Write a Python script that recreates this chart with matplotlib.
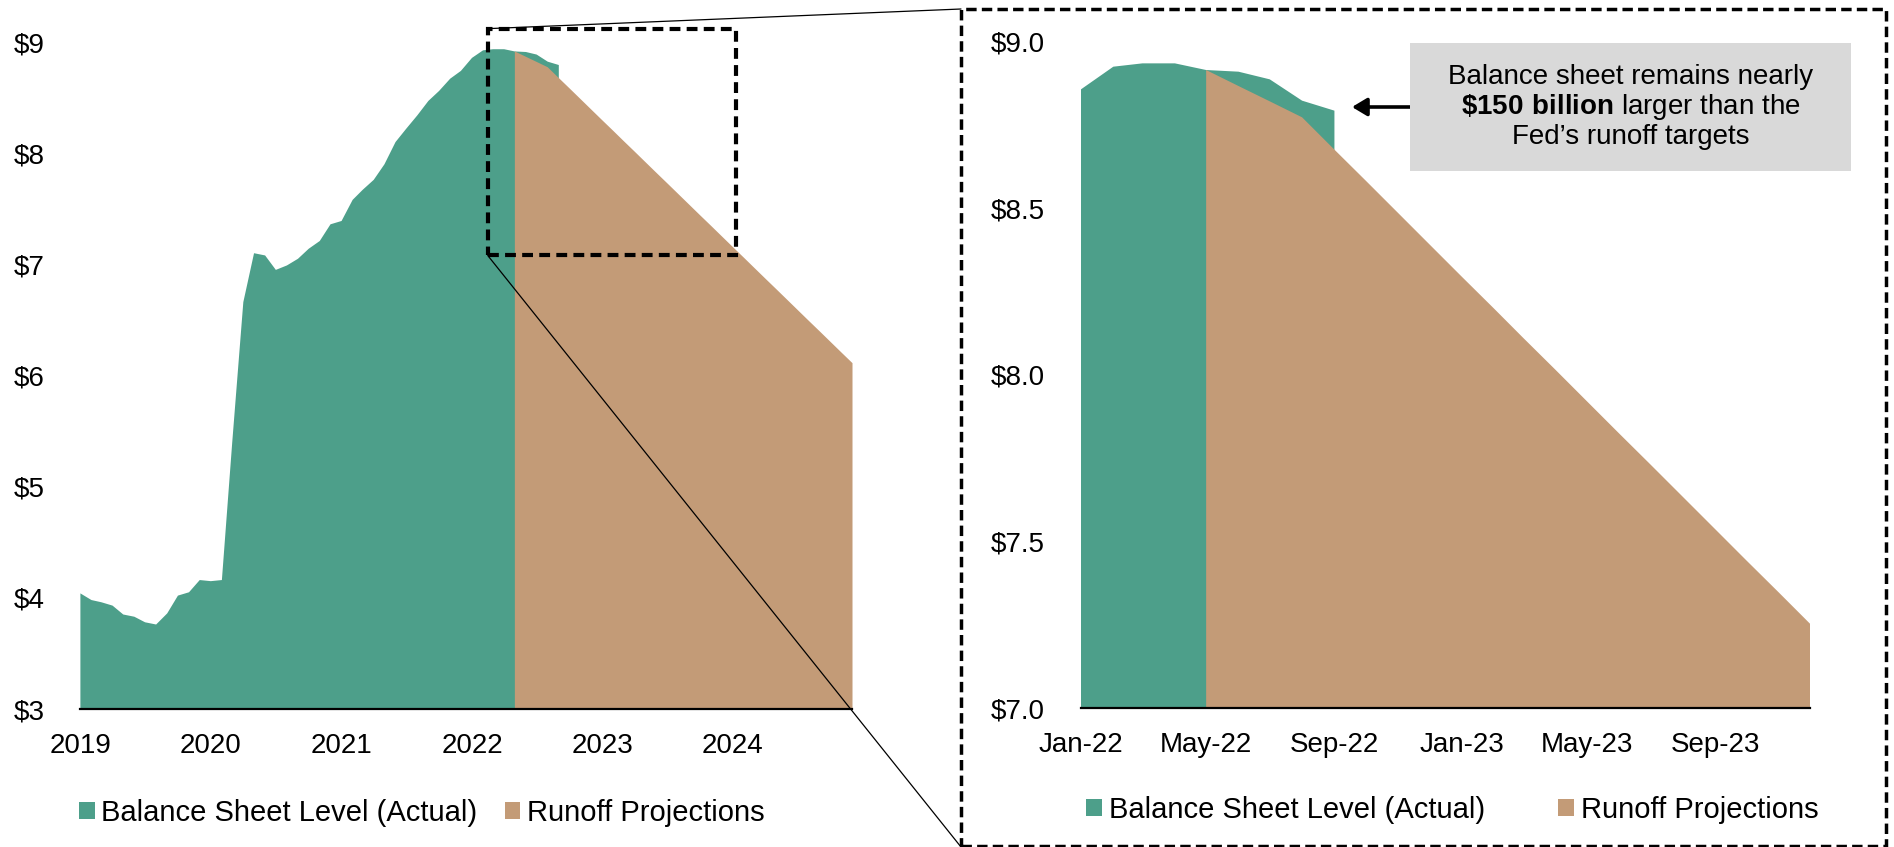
import pandas as pd
import matplotlib
matplotlib.use("Agg")
import matplotlib.pyplot as plt
import matplotlib.dates as mdates
from matplotlib.patches import Rectangle, ConnectionPatch
from matplotlib.ticker import FuncFormatter, MultipleLocator

plt.rcParams['font.family'] = ['Liberation Sans', 'DejaVu Sans']
plt.rcParams['mathtext.fontset'] = 'custom'
plt.rcParams['mathtext.rm'] = 'Liberation Sans'
plt.rcParams['mathtext.bf'] = 'Liberation Sans:bold'

# Fed balance sheet, $ trillions, month start
actual_dates = pd.date_range('2019-01-01', '2022-09-01', freq='MS')
actual_vals = [4.04, 3.98, 3.96, 3.93, 3.85, 3.83, 3.78, 3.76, 3.86, 4.02, 4.05, 4.16,
               4.15, 4.16, 5.40, 6.66, 7.10, 7.08, 6.95, 6.99, 7.05, 7.14, 7.21, 7.36,
               7.39, 7.58, 7.67, 7.76, 7.90, 8.10, 8.22, 8.34, 8.47, 8.56, 8.67, 8.74,
               8.857, 8.925, 8.935, 8.935, 8.915, 8.91, 8.887, 8.823, 8.793]

# runoff path
proj_dates = pd.date_range('2022-05-01', '2024-12-01', freq='MS')
proj_vals = [8.915, 8.867, 8.821, 8.773, 8.676, 8.583, 8.486, 8.392,
             8.295, 8.199, 8.111, 8.015, 7.921, 7.824, 7.731, 7.634, 7.537, 7.443, 7.347, 7.253,
             7.156, 7.060, 6.969, 6.872, 6.779, 6.682, 6.588, 6.491, 6.395, 6.301, 6.204, 6.111]

GREEN = '#4D9F8A'
TAN = '#C39B77'
lbl_actual = 'Balance Sheet Level (Actual)'
lbl_proj = 'Runoff Projections'

W, H = 1894, 847
fig = plt.figure(figsize=(W / 100, H / 100), dpi=100)


def fx(x):
    return x / W


def fy(y):
    return 1 - y / H


def box(x0, y0, x1, y1):
    return [fx(x0), fy(y1), (x1 - x0) / W, (y1 - y0) / H]


ax1 = fig.add_axes(box(80.4, 42, 852.5, 709))
ax2 = fig.add_axes(box(1081, 41.7, 1810, 708))

for ax in (ax1, ax2):
    ax.fill_between(actual_dates, actual_vals, 0, color=GREEN, lw=0, label=lbl_actual)
    ax.fill_between(proj_dates, proj_vals, 0, color=TAN, lw=0, label=lbl_proj)
    for s in ['top', 'right', 'left']:
        ax.spines[s].set_visible(False)
    ax.spines['bottom'].set_linewidth(1.6)
    ax.tick_params(length=0, labelsize=20)
    ax.tick_params(axis='x', pad=17)
    ax.tick_params(axis='y', pad=26)

ax1.set_xlim(pd.Timestamp('2019-01-01'), pd.Timestamp('2024-12-01'))
ax1.set_ylim(3, 9)
ax1.yaxis.set_major_locator(MultipleLocator(1))
ax1.yaxis.set_major_formatter(FuncFormatter(lambda v, p: '$%d' % v))
ax1.xaxis.set_major_locator(mdates.YearLocator())
ax1.xaxis.set_major_formatter(mdates.DateFormatter('%Y'))

ax2.set_xlim(pd.Timestamp('2022-01-01'), pd.Timestamp('2023-12-01'))
ax2.set_ylim(7, 9)
ax2.yaxis.set_major_locator(MultipleLocator(0.5))
ax2.yaxis.set_major_formatter(FuncFormatter(lambda v, p: '$%.1f' % v))
ax2.xaxis.set_major_locator(mdates.MonthLocator(bymonth=[1, 5, 9]))
ax2.xaxis.set_major_formatter(mdates.DateFormatter('%b-%y'))

# legends under each panel
ax1.legend(loc='center left', bbox_to_anchor=(fx(79), fy(813)), bbox_transform=fig.transFigure,
           ncol=2, frameon=False, fontsize=21, handlelength=0.54, handleheight=0.54,
           handletextpad=0.22, columnspacing=0.94, borderpad=0, borderaxespad=0)
ax2.legend(loc='center left', bbox_to_anchor=(fx(1086), fy(810)), bbox_transform=fig.transFigure,
           ncol=2, frameon=False, fontsize=21, handlelength=0.54, handleheight=0.54,
           handletextpad=0.25, columnspacing=2.5, borderpad=0, borderaxespad=0)

# zoom box on the left chart
zx0 = mdates.date2num(pd.Timestamp('2022-02-14'))
zx1 = mdates.date2num(pd.Timestamp('2024-01-09'))
zy0, zy1 = 7.08, 9.12
ax1.add_patch(Rectangle((zx0, zy0), zx1 - zx0, zy1 - zy0, fill=False, ec='black',
                        lw=3, ls=(0, (2.6, 1.5)), clip_on=False, zorder=5))

# dashed frame around the right panel
fig.add_artist(Rectangle((fx(961), fy(846)), (1886 - 961) / W, (846 - 9) / H,
                         transform=fig.transFigure, fill=False, ec='black',
                         lw=2.5, ls=(0, (3.0, 1.5))))

# lines joining the zoom box to the panel
for (bx, by), (px_, py_) in [((zx0, zy1), (961, 9)), ((zx0, zy0), (961, 847))]:
    fig.add_artist(ConnectionPatch(xyA=(bx, by), coordsA=ax1.transData,
                                   xyB=(fx(px_), fy(py_)), coordsB=fig.transFigure,
                                   color='black', lw=0.9))

# callout
fig.add_artist(Rectangle((fx(1410), fy(171)), (1851 - 1410) / W, (171 - 43) / H,
                         transform=fig.transFigure, fc='#D9D9D9', ec='none'))
fig.text(fx(1630.5), fy(107),
         'Balance sheet remains nearly\n$\\mathbf{\\$150\\ billion}$ larger than the\nFed\u2019s runoff targets',
         ha='center', va='center', fontsize=20, linespacing=1.1, multialignment='center')
ax2.annotate('', xy=(fx(1352), fy(107)), xytext=(fx(1410), fy(107)),
             xycoords=fig.transFigure, textcoords=fig.transFigure,
             arrowprops=dict(arrowstyle='-|>,head_length=0.45,head_width=0.27',
                             lw=2.6, color='black', mutation_scale=20,
                             shrinkA=0, shrinkB=0))

fig.savefig('out.png', dpi=100)
